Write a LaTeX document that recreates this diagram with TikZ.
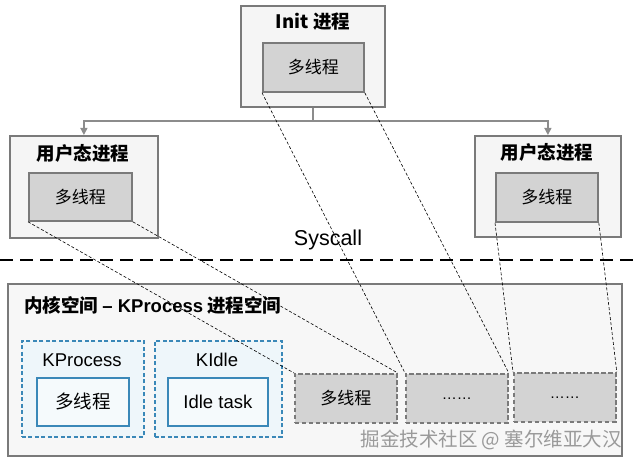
\documentclass[tikz,border=0pt]{standalone}
\usepackage{fontspec}
\setmainfont{Liberation Sans}
\newfontfamily\cjk{Noto Sans CJK SC}
\usetikzlibrary{arrows.meta}
\definecolor{bordergray}{HTML}{7A7A7A}
\definecolor{outerfill}{HTML}{F5F5F5}
\definecolor{innerfill}{HTML}{D3D3D3}
\definecolor{kernfill}{HTML}{F7F7F7}
\definecolor{kblue}{HTML}{3A88B8}
\definecolor{kbluefill}{HTML}{EEF6FA}
\definecolor{conngray}{HTML}{8C8C8C}
\definecolor{wmgray}{HTML}{9A9A9A}
\begin{document}
\begin{tikzpicture}[x=1pt,y=-1pt,
  outerbox/.style={draw=bordergray, line width=1.8pt, fill=outerfill, inner sep=0pt, anchor=north west},
  innerbox/.style={draw=bordergray, line width=1.8pt, fill=innerfill, inner sep=0pt, anchor=north west, font=\cjk\fontsize{17}{20}\selectfont},
  kernbox/.style={draw=bordergray, line width=1.8pt, fill=kernfill, inner sep=0pt, anchor=north west},
  bluebox/.style={draw=kblue, line width=1.6pt, dashed, dash pattern=on 4pt off 2.5pt, fill=kbluefill, inner sep=0pt, anchor=north west},
  blueinner/.style={draw=kblue, line width=1.8pt, fill=kbluefill!60!white, inner sep=0pt, anchor=north west, font=\fontsize{18.5}{22}\selectfont},
  graydash/.style={draw=bordergray, line width=1.8pt, dash pattern=on 4.5pt off 2.5pt, fill=innerfill, inner sep=0pt, anchor=north west, font=\cjk\fontsize{17}{20}\selectfont},
  titletext/.style={font=\cjk\bfseries\fontsize{18.5}{22}\selectfont, inner sep=0pt},
  labeltext/.style={font=\fontsize{18.5}{22}\selectfont, inner sep=0pt},
  conn/.style={draw=conngray, line width=1.3pt},
  tip/.style={-{Triangle[length=7pt,width=7pt]}},
  link/.style={draw=black, line width=0.6pt, dash pattern=on 3pt off 2pt},
  sysline/.style={draw=black, line width=2.5pt, dash pattern=on 13pt off 7pt}
]
\useasboundingbox (0,0) rectangle (637,465);

% user space boxes
\node[outerbox, minimum width=144pt, minimum height=101pt] (init) at (240,5) {};
\node[titletext] (initt) at (313,22) {Init {\cjk 进程}};
\node[innerbox, minimum width=101pt, minimum height=49pt] (initi) at (262,42) {多线程};

\node[outerbox, minimum width=148pt, minimum height=102pt] (lu) at (9,135) {};
\node[titletext] (lut) at (83,153) {用户态进程};
\node[innerbox, minimum width=103pt, minimum height=48pt] (lui) at (28,172) {多线程};

\node[outerbox, minimum width=146pt, minimum height=101pt] (ru) at (474,135) {};
\node[titletext] (rut) at (547,152) {用户态进程};
\node[innerbox, minimum width=102pt, minimum height=49pt] (rui) at (495,172) {多线程};

% tree connector
\coordinate (hb) at (0,121);
\draw[conn, tip] (init.south) -- (init.south |- hb) -| (lu.north);
\draw[conn, tip] (init.south) -- (init.south |- hb) -| (ru.north);

% syscall
\node[labeltext, font=\fontsize{21.5}{24}\selectfont] (sys) at (328,240) {Syscall};
\coordinate (sl) at (0,260);
\coordinate (sr) at (637,260);
\draw[sysline] (sl) -- (sr);

% kernel space
\node[kernbox, minimum width=614pt, minimum height=172pt] (kern) at (7,283) {};
\node[titletext, anchor=west] (kernt) at (24,305) {内核空间 {\fontspec{Liberation Sans}– KProcess} 进程空间};

\node[bluebox, minimum width=122pt, minimum height=96pt] (kp) at (21,340) {};
\node[labeltext] (kpt) at (82,360) {KProcess};
\node[blueinner, minimum width=92pt, minimum height=48pt, font=\cjk\fontsize{18.5}{22}\selectfont] (kpi) at (36,377) {多线程};

\node[bluebox, minimum width=127pt, minimum height=96pt] (ki) at (154,340) {};
\node[labeltext] (kit) at (217,360) {KIdle};
\node[blueinner, minimum width=100pt, minimum height=48pt] (kii) at (167,377) {Idle task};

\node[graydash, minimum width=102pt, minimum height=49pt] (g1) at (294,373) {多线程};
\node[graydash, minimum width=102pt, minimum height=49pt, font=\fontsize{15}{18}\selectfont] (g2) at (405,373) {\raisebox{-3pt}{……}};
\node[graydash, minimum width=102pt, minimum height=49pt, font=\fontsize{15}{18}\selectfont] (g3) at (513,372) {\raisebox{-3pt}{……}};

\node[font=\cjk\fontsize{19.5}{22}\selectfont, text=wmgray, anchor=east, inner sep=0pt] (wm) at (622,440) {掘金技术社区 @ 塞尔维亚大汉};

% dashed links
\draw[link] (lui.south west) -- (g1.north west);
\draw[link] (lui.south east) -- (g1.north east);
\draw[link] (initi.south west) -- (g2.north west);
\draw[link] (initi.south east) -- (g2.north east);
\draw[link] (rui.south west) -- (g3.north west);
\draw[link] (rui.south east) -- (g3.north east);
\end{tikzpicture}
\end{document}
